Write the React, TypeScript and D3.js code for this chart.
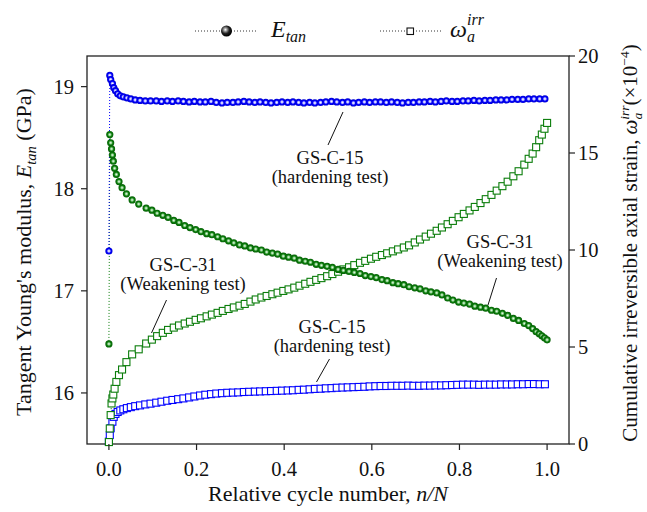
import React from "react";
import * as d3 from "d3";

// Relative cycle positions (n/N) for the two tests
const x15 = [
  0, 0.002, 0.004, 0.008, 0.011, 0.015, 0.020, 0.026, 0.033, 0.041, 0.050, 0.060, 0.071, 0.083,
  0.095, 0.108, 0.120, 0.133, 0.145, 0.158, 0.170, 0.183, 0.195, 0.208,
  0.220, 0.233, 0.245, 0.258, 0.270, 0.283, 0.295, 0.308, 0.320, 0.333,
  0.345, 0.358, 0.370, 0.383, 0.395, 0.408, 0.420, 0.433, 0.445, 0.458,
  0.470, 0.483, 0.495, 0.508, 0.520, 0.533, 0.545, 0.558, 0.570, 0.583,
  0.595, 0.608, 0.620, 0.633, 0.645, 0.658, 0.670, 0.683, 0.695, 0.708,
  0.720, 0.733, 0.745, 0.758, 0.770, 0.783, 0.795, 0.808, 0.820, 0.833,
  0.845, 0.858, 0.870, 0.883, 0.895, 0.908, 0.920, 0.933, 0.945, 0.958,
  0.970, 0.983, 0.995,
];

// GS-C-15 (hardening test): tangent Young's modulus, GPa
const eTan15 = [
  17.39, 19.11, 19.07, 19.03, 18.99, 18.96, 18.93, 18.91, 18.90, 18.89, 18.88, 18.87, 18.865, 18.86,
  18.86, 18.86, 18.855, 18.86, 18.855, 18.86, 18.855, 18.85, 18.855, 18.85,
  18.85, 18.855, 18.845, 18.84, 18.845, 18.845, 18.85, 18.855, 18.85, 18.845,
  18.85, 18.845, 18.84, 18.845, 18.85, 18.845, 18.85, 18.845, 18.84, 18.845,
  18.84, 18.845, 18.85, 18.855, 18.85, 18.845, 18.85, 18.84, 18.845, 18.85,
  18.845, 18.85, 18.85, 18.845, 18.85, 18.845, 18.84, 18.845, 18.845, 18.85,
  18.85, 18.855, 18.85, 18.855, 18.86, 18.855, 18.855, 18.86, 18.86, 18.865,
  18.86, 18.865, 18.865, 18.87, 18.87, 18.87, 18.875, 18.875, 18.875, 18.88,
  18.88, 18.88, 18.88,
];

// GS-C-15 (hardening test): cumulative irreversible axial strain, x10^-4
const wIrr15 = [
  0.12, 0.46, 0.81, 1.15, 1.40, 1.55, 1.65, 1.73, 1.79, 1.85, 1.90, 1.95, 1.99, 2.04,
  2.08, 2.13, 2.18, 2.23, 2.27, 2.31, 2.35, 2.40, 2.45, 2.50,
  2.54, 2.57, 2.60, 2.62, 2.64, 2.65, 2.66, 2.68, 2.69, 2.70,
  2.71, 2.72, 2.73, 2.74, 2.75, 2.76, 2.77, 2.79, 2.80, 2.82,
  2.84, 2.85, 2.87, 2.88, 2.90, 2.91, 2.92, 2.93, 2.94, 2.95,
  2.97, 2.98, 2.99, 2.99, 3.00, 3.00, 3.00, 3.01, 3.00, 3.00,
  3.01, 3.01, 3.02, 3.02, 3.03, 3.04, 3.05, 3.06, 3.06, 3.06,
  3.05, 3.06, 3.06, 3.06, 3.07, 3.07, 3.07, 3.08, 3.08, 3.09,
  3.09, 3.08, 3.08,
];

const x31 = [
  0, 0.002, 0.004, 0.006, 0.008, 0.010, 0.013, 0.017, 0.023, 0.030, 0.040, 0.053, 0.068, 0.085,
  0.098, 0.110, 0.123, 0.135, 0.148, 0.160, 0.173, 0.185, 0.198, 0.210,
  0.223, 0.235, 0.248, 0.260, 0.273, 0.285, 0.298, 0.310, 0.323, 0.335,
  0.348, 0.360, 0.373, 0.385, 0.398, 0.410, 0.423, 0.435, 0.448, 0.460,
  0.473, 0.485, 0.498, 0.510, 0.523, 0.535, 0.548, 0.560, 0.573, 0.585,
  0.598, 0.610, 0.623, 0.635, 0.648, 0.660, 0.673, 0.685, 0.698, 0.710,
  0.723, 0.735, 0.748, 0.760, 0.773, 0.785, 0.798, 0.810, 0.823, 0.835,
  0.848, 0.860, 0.873, 0.885, 0.898, 0.910, 0.923, 0.935, 0.948,
  0.958, 0.967, 0.975, 0.982, 0.988, 0.994, 1.0,
];

// GS-C-31 (weakening test): tangent Young's modulus, GPa
const eTan31 = [
  16.48, 18.53, 18.45, 18.39, 18.33, 18.27, 18.20, 18.14, 18.07, 18.01, 17.95, 17.89, 17.85, 17.81,
  17.79, 17.76, 17.74, 17.72, 17.69, 17.67, 17.64, 17.62, 17.60, 17.58,
  17.56, 17.55, 17.53, 17.51, 17.49, 17.47, 17.45, 17.44, 17.42, 17.41,
  17.40, 17.38, 17.37, 17.36, 17.34, 17.33, 17.32, 17.30, 17.29, 17.28,
  17.26, 17.25, 17.24, 17.23, 17.21, 17.20, 17.19, 17.18, 17.17, 17.15,
  17.14, 17.13, 17.11, 17.10, 17.08, 17.07, 17.06, 17.04, 17.03, 17.02,
  17.00, 16.99, 16.98, 16.96, 16.93, 16.91, 16.89, 16.88, 16.87, 16.85,
  16.84, 16.83, 16.81, 16.80, 16.78, 16.76, 16.73, 16.71, 16.68,
  16.66, 16.63, 16.60, 16.58, 16.56, 16.54, 16.52,
];

// GS-C-31 (weakening test): cumulative irreversible axial strain, x10^-4
const wIrr31 = [
  0.10, 0.80, 1.49, 2.09, 2.35, 2.55, 2.85, 3.20, 3.55, 3.84, 4.22, 4.62, 4.88, 5.18,
  5.38, 5.56, 5.73, 5.88, 6.00, 6.11, 6.21, 6.30, 6.40, 6.48,
  6.58, 6.67, 6.76, 6.86, 6.96, 7.04, 7.13, 7.22, 7.34, 7.45,
  7.55, 7.63, 7.72, 7.80, 7.89, 7.97, 8.06, 8.16, 8.26, 8.36,
  8.46, 8.55, 8.65, 8.76, 8.88, 9.00, 9.11, 9.22, 9.34, 9.44,
  9.55, 9.65, 9.74, 9.83, 9.93, 10.03, 10.13, 10.24, 10.39, 10.54,
  10.69, 10.84, 10.99, 11.16, 11.33, 11.50, 11.69, 11.86, 12.04, 12.22,
  12.42, 12.62, 12.84, 13.06, 13.29, 13.52, 13.80, 14.06, 14.40,
  14.70, 14.97, 15.30, 15.66, 15.95, 16.25, 16.55,
];

const xTicks = [0, 0.2, 0.4, 0.6, 0.8, 1.0];
const leftTicks = [16, 17, 18, 19];
const rightTicks = [0, 5, 10, 15, 20];

const BLUE = "#0000ff";
const GREEN = "#0b7d0b";
const FONT = "Liberation Serif";

const W = 647;
const H = 512;
const plot = { left: 87, right: 569, top: 56, bottom: 444 };

export default function App() {
  const x = d3.scaleLinear().domain([-0.05, 1.05]).range([plot.left, plot.right]);
  const yL = d3.scaleLinear().domain([15.5, 19.3]).range([plot.bottom, plot.top]);
  const yR = d3.scaleLinear().domain([0, 20]).range([plot.bottom, plot.top]);

  const pts = (xs: number[], ys: number[]) => xs.map((v, i) => [v, ys[i]] as [number, number]);

  const lineL = d3.line<[number, number]>().x((d) => x(d[0])).y((d) => yL(d[1]));
  const lineR = d3.line<[number, number]>().x((d) => x(d[0])).y((d) => yR(d[1]));

  const e15 = pts(x15, eTan15);
  const e31 = pts(x31, eTan31);
  const w15 = pts(x15, wIrr15);
  const w31 = pts(x31, wIrr31);

  const sq = 7;
  const squares = (data: [number, number][], color: string, key: string) =>
    data.map((d, i) => (
      <rect
        key={key + i}
        x={x(d[0]) - sq / 2}
        y={yR(d[1]) - sq / 2}
        width={sq}
        height={sq}
        fill="#fff"
        stroke={color}
        strokeWidth={1.1}
      />
    ));

  const balls = (data: [number, number][], grad: string, key: string) =>
    data.map((d, i) => (
      <circle key={key + i} cx={x(d[0])} cy={yL(d[1])} r={3.6} fill={`url(#${grad})`} />
    ));

  const dotted = { fill: "none", strokeWidth: 1, strokeDasharray: "1,2" };
  const txt = { fontFamily: FONT };

  return (
    <svg
      width={W}
      height={H}
      viewBox={`0 0 ${W} ${H}`}
      style={{ position: "absolute", left: 0, top: 0, background: "#fff", fontFamily: FONT }}
    >
      <defs>
        <radialGradient id="ballBlue" cx="50%" cy="50%" r="50%">
          <stop offset="0" stopColor="#ffffff" />
          <stop offset="0.3" stopColor="#b8b8ff" />
          <stop offset="0.6" stopColor={BLUE} />
          <stop offset="1" stopColor="#0000d0" />
        </radialGradient>
        <radialGradient id="ballGreen" cx="50%" cy="50%" r="50%">
          <stop offset="0" stopColor="#f0fff0" />
          <stop offset="0.3" stopColor="#8fcf8f" />
          <stop offset="0.6" stopColor={GREEN} />
          <stop offset="1" stopColor="#066006" />
        </radialGradient>
        <radialGradient id="ballBlack" cx="40%" cy="38%" r="60%">
          <stop offset="0" stopColor="#ffffff" />
          <stop offset="0.25" stopColor="#9a9a9a" />
          <stop offset="0.6" stopColor="#202020" />
          <stop offset="1" stopColor="#000" />
        </radialGradient>
      </defs>

      {/* frame */}
      <rect
        x={plot.left}
        y={plot.top}
        width={plot.right - plot.left}
        height={plot.bottom - plot.top}
        fill="none"
        stroke="#222"
        strokeWidth={1.3}
      />

      {/* connecting dotted lines */}
      <path d={lineR(w31) || ""} stroke={GREEN} {...dotted} />
      <path d={lineR(w15) || ""} stroke={BLUE} {...dotted} />
      <path d={lineL(e31) || ""} stroke={GREEN} {...dotted} />
      <path d={lineL(e15) || ""} stroke={BLUE} {...dotted} />

      {/* markers */}
      {squares(w15, BLUE, "w15")}
      {squares(w31, GREEN, "w31")}
      {balls(e31, "ballGreen", "e31")}
      {balls(e15, "ballBlue", "e15")}

      {/* bottom axis */}
      {xTicks.map((t) => (
        <g key={"xt" + t}>
          <line x1={x(t)} x2={x(t)} y1={plot.bottom} y2={plot.bottom + 6} stroke="#222" strokeWidth={1.2} />
          <text style={txt} x={x(t)} y={476} textAnchor="middle" fontSize={20.5} fill="#111">
            {d3.format(".1f")(t)}
          </text>
        </g>
      ))}
      {/* left axis */}
      {leftTicks.map((t) => (
        <g key={"yl" + t}>
          <line x1={plot.left - 6} x2={plot.left} y1={yL(t)} y2={yL(t)} stroke="#222" strokeWidth={1.2} />
          <text style={txt} x={74} y={yL(t)} dy="0.34em" textAnchor="end" fontSize={20.5} fill="#111">
            {t}
          </text>
        </g>
      ))}
      {/* right axis */}
      {rightTicks.map((t) => (
        <g key={"yr" + t}>
          <line x1={plot.right} x2={plot.right + 6} y1={yR(t)} y2={yR(t)} stroke="#222" strokeWidth={1.2} />
          <text style={txt} x={578} y={yR(t)} dy="0.34em" textAnchor="start" fontSize={20.5} fill="#111">
            {t}
          </text>
        </g>
      ))}

      {/* axis titles */}
      <text style={txt} x={328} y={501} textAnchor="middle" fontSize={22} fill="#111">
        Relative cycle number, <tspan fontStyle="italic">n/N</tspan>
      </text>
      <text style={txt} transform="translate(31,252) rotate(-90)" textAnchor="middle" fontSize={22} fill="#111">
        Tangent Young's modulus, <tspan fontStyle="italic">E</tspan>
        <tspan fontStyle="italic" fontSize={14.5} dy={5}>tan</tspan>
        <tspan dy={-5}> (GPa)</tspan>
      </text>
      <text style={txt} transform="translate(637,243) rotate(-90)" textAnchor="middle" fontSize={21} fill="#111">
        Cumulative irreversible axial strain, <tspan fontStyle="italic">ω</tspan>
        <tspan fontStyle="italic" fontSize={13.5} dy={5}>a</tspan>
        <tspan fontStyle="italic" fontSize={13.5} dx={-7} dy={-13}>irr</tspan>
        <tspan dy={8}>(×10</tspan>
        <tspan fontSize={13.5} dy={-8}>−4</tspan>
        <tspan dy={8}>)</tspan>
      </text>

      {/* annotations */}
      <g style={txt} fontSize={18.5} fill="#111" textAnchor="middle">
        <line x1={343} y1={112} x2={328} y2={145} stroke="#111" strokeWidth={1} />
        <text x={330} y={164}>GS-C-15</text>
        <text x={330} y={183}>(hardening test)</text>

        <line x1={166.5} y1={300} x2={151.5} y2={333} stroke="#111" strokeWidth={1} />
        <text x={183} y={271}>GS-C-31</text>
        <text x={183} y={290}>(Weakening test)</text>

        <line x1={496.5} y1={278} x2={488} y2={305} stroke="#111" strokeWidth={1} />
        <text x={500} y={248}>GS-C-31</text>
        <text x={500} y={267}>(Weakening test)</text>

        <line x1={329.5} y1={359} x2={316.5} y2={382} stroke="#111" strokeWidth={1} />
        <text x={332} y={333}>GS-C-15</text>
        <text x={332} y={352}>(hardening test)</text>
      </g>

      {/* legend */}
      <line x1={195} x2={258} y1={31} y2={31} stroke="#333" {...dotted} />
      <circle cx={226.5} cy={31} r={5.5} fill="url(#ballBlack)" />
      <text style={txt} x={271} y={37} fontSize={24} fontStyle="italic" fill="#111">
        E<tspan fontSize={16} dy={5}>tan</tspan>
      </text>

      <line x1={380} x2={443} y1={31} y2={31} stroke="#333" {...dotted} />
      <rect x={407} y={28} width={6.5} height={6.5} fill="#fff" stroke="#111" strokeWidth={1.1} />
      <text style={txt} x={450} y={37} fontSize={24} fontStyle="italic" fill="#111">ω</text>
      <text style={txt} x={467} y={42} fontSize={16} fontStyle="italic" fill="#111">a</text>
      <text style={txt} x={467} y={25} fontSize={16} fontStyle="italic" fill="#111">irr</text>
    </svg>
  );
}
